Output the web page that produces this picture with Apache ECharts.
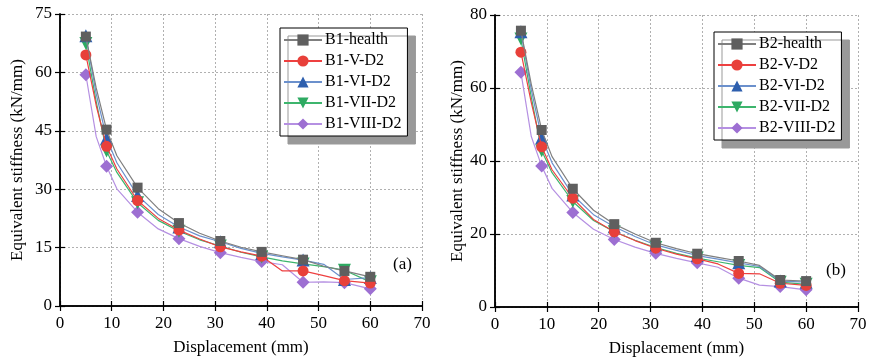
<!DOCTYPE html>
<html>
<head>
<meta charset="utf-8">
<script src="https://cdn.jsdelivr.net/npm/echarts@6/dist/echarts.min.js"></script>
<style>
  html, body { margin: 0; padding: 0; background: #fff; }
  #chart { width: 871px; height: 362px; }
</style>
</head>
<body>
<div id="chart"></div>
<script>
// displacement points (mm); markers are only drawn on markerX
const displacement = [5, 7, 9, 11, 15, 19, 23, 27, 31, 35, 39, 43, 47, 51, 55, 60];
const markerX = [5, 9, 15, 23, 31, 39, 47, 55, 60];

// panel (a) - B1
const b1Names = ['B1-health', 'B1-V-D2', 'B1-VI-D2', 'B1-VII-D2', 'B1-VIII-D2'];
const b1Health = [69.2, 56.0, 45.3, 38.6, 30.4, 25.0, 21.3, 18.7, 16.7, 15.1, 13.9, 12.9, 11.9, 10.2, 9.0, 7.5];
const b1V = [64.5, 51.5, 41.0, 35.2, 27.1, 22.5, 19.5, 17.2, 15.2, 13.9, 12.8, 9.0, 9.0, 7.8, 6.5, 5.9];
const b1VI = [69.4, 54.5, 43.1, 36.8, 28.4, 23.5, 20.3, 18.0, 16.5, 14.8, 13.5, 12.6, 11.8, 10.7, 6.8, 7.3];
const b1VII = [67.4, 52.5, 39.8, 34.3, 26.5, 22.0, 19.2, 17.0, 15.4, 13.8, 12.6, 11.6, 10.8, 10.1, 9.2, 6.2];
const b1VIII = [59.4, 43.5, 35.9, 30.1, 24.1, 19.8, 17.3, 15.3, 13.7, 12.5, 11.4, 10.6, 6.1, 6.2, 6.0, 4.4];

// panel (b) - B2
const b2Names = ['B2-health', 'B2-V-D2', 'B2-VI-D2', 'B2-VII-D2', 'B2-VIII-D2'];
const b2Health = [75.7, 61.0, 48.5, 41.2, 32.4, 26.5, 22.7, 20.0, 17.6, 16.0, 14.6, 13.6, 12.6, 11.4, 7.4, 7.1];
const b2V = [69.8, 56.0, 43.9, 37.6, 29.8, 24.0, 20.6, 18.2, 16.1, 14.5, 13.2, 11.8, 9.2, 9.1, 6.5, 5.9];
const b2VI = [75.4, 59.5, 46.4, 39.5, 30.7, 25.3, 22.0, 19.3, 17.0, 15.5, 14.1, 13.1, 12.1, 11.1, 7.1, 6.8];
const b2VII = [73.4, 57.5, 42.8, 36.8, 28.9, 23.7, 20.6, 18.3, 16.3, 14.7, 13.4, 12.4, 11.4, 10.8, 6.8, 6.2];
const b2VIII = [64.3, 46.7, 38.6, 32.5, 25.9, 21.3, 18.5, 16.4, 14.7, 13.3, 12.1, 10.9, 7.9, 6.0, 5.6, 4.7];

const xTicks = { min: 0, max: 70, interval: 10 };
const yTicksA = { min: 0, max: 75, interval: 15 };
const yTicksB = { min: 0, max: 80, interval: 20 };

const styles = [
  { symbol: 'rect', size: 10, line: '#7f7f7f', mark: '#5f5f5f' },
  { symbol: 'circle', size: 11, line: '#ee4040', mark: '#e8403a' },
  { symbol: 'triangle', size: 13, line: '#6b90cc', mark: '#2e5fae' },
  { symbol: 'path://M0,0 L10,0 L5,9 Z', size: 13, line: '#3db56d', mark: '#2eaa62' },
  { symbol: 'diamond', size: 13, line: '#b590e2', mark: '#9d6fd2' }
];

const font = 'Liberation Serif';
const chart = echarts.init(document.getElementById('chart'));

function xAxes(gridIndex) {
  const base = {
    gridIndex, type: 'value', min: xTicks.min, max: xTicks.max, interval: xTicks.interval,
    axisLine: { lineStyle: { color: '#000', width: 1.5 } },
    axisTick: { inside: true, length: 5, lineStyle: { color: '#000', width: 1.2 } }
  };
  return [
    Object.assign({}, base, {
      position: 'bottom',
      name: 'Displacement (mm)', nameLocation: 'middle', nameGap: 33,
      nameTextStyle: { fontFamily: font, fontSize: 17, color: '#000' },
      axisLabel: { fontFamily: font, fontSize: 17, color: '#000', margin: 9 },
      splitLine: { show: true, lineStyle: { color: '#b0b0b0', type: [2, 2], width: 1 } }
    }),
    Object.assign({}, base, {
      position: 'top', axisLabel: { show: false }, splitLine: { show: false }
    })
  ];
}

function yAxes(gridIndex, ticks, gap) {
  const base = {
    gridIndex, type: 'value', min: ticks.min, max: ticks.max, interval: ticks.interval,
    axisLine: { show: true, lineStyle: { color: '#000', width: 1.5 } },
    axisTick: { show: true, inside: true, length: 5, lineStyle: { color: '#000', width: 1.2 } }
  };
  return [
    Object.assign({}, base, {
      position: 'left',
      name: 'Equivalent stiffness (kN/mm)', nameLocation: 'middle', nameGap: gap,
      nameTextStyle: { fontFamily: font, fontSize: 17, color: '#000' },
      axisLabel: { fontFamily: font, fontSize: 17, color: '#000', margin: 8 },
      splitLine: { show: true, lineStyle: { color: '#b0b0b0', type: [2, 2], width: 1 } }
    }),
    Object.assign({}, base, {
      position: 'right', axisLabel: { show: false }, splitLine: { show: false }
    })
  ];
}

function makeSeries(names, values, gridIdx) {
  return names.map((name, i) => ({
    name,
    type: 'line',
    xAxisIndex: gridIdx * 2,
    yAxisIndex: gridIdx * 2,
    data: displacement.map((x, j) => [x, values[i][j]]),
    symbol: styles[i].symbol,
    symbolSize: (v) => (markerX.includes(v[0]) ? styles[i].size : 0),
    showAllSymbol: true,
    lineStyle: { color: styles[i].line, width: 1.2 },
    itemStyle: { color: styles[i].mark },
    z: 10 - i,
    animation: false
  }));
}

function legend(names, left, top) {
  return {
    data: names,
    orient: 'vertical',
    left, top,
    itemWidth: 38, itemHeight: 14, itemGap: 5,
    padding: [4, 6, 4, 3],
    backgroundColor: '#fff',
    borderColor: '#000', borderWidth: 1,
    shadowColor: '#999', shadowBlur: 0, shadowOffsetX: 8, shadowOffsetY: 8,
    textStyle: { fontFamily: font, fontSize: 16, color: '#000', padding: [0, 0, 0, -2] }
  };
}

chart.setOption({
  animation: false,
  grid: [
    { left: 60, top: 14, width: 362, height: 292 },
    { left: 495, top: 15, width: 363, height: 292 }
  ],
  xAxis: [...xAxes(0), ...xAxes(1)],
  yAxis: [...yAxes(0, yTicksA, 34), ...yAxes(1, yTicksB, 20)],
  legend: [legend(b1Names, 280, 28), legend(b2Names, 714, 32)],
  graphic: [
    { type: 'text', left: 393, top: 256, style: { text: '(a)', font: '17px "Liberation Serif"', fill: '#000' } },
    { type: 'text', left: 826, top: 262, style: { text: '(b)', font: '17px "Liberation Serif"', fill: '#000' } }
  ],
  series: [
    ...makeSeries(b1Names, [b1Health, b1V, b1VI, b1VII, b1VIII], 0),
    ...makeSeries(b2Names, [b2Health, b2V, b2VI, b2VII, b2VIII], 1)
  ]
});
</script>
</body>
</html>
